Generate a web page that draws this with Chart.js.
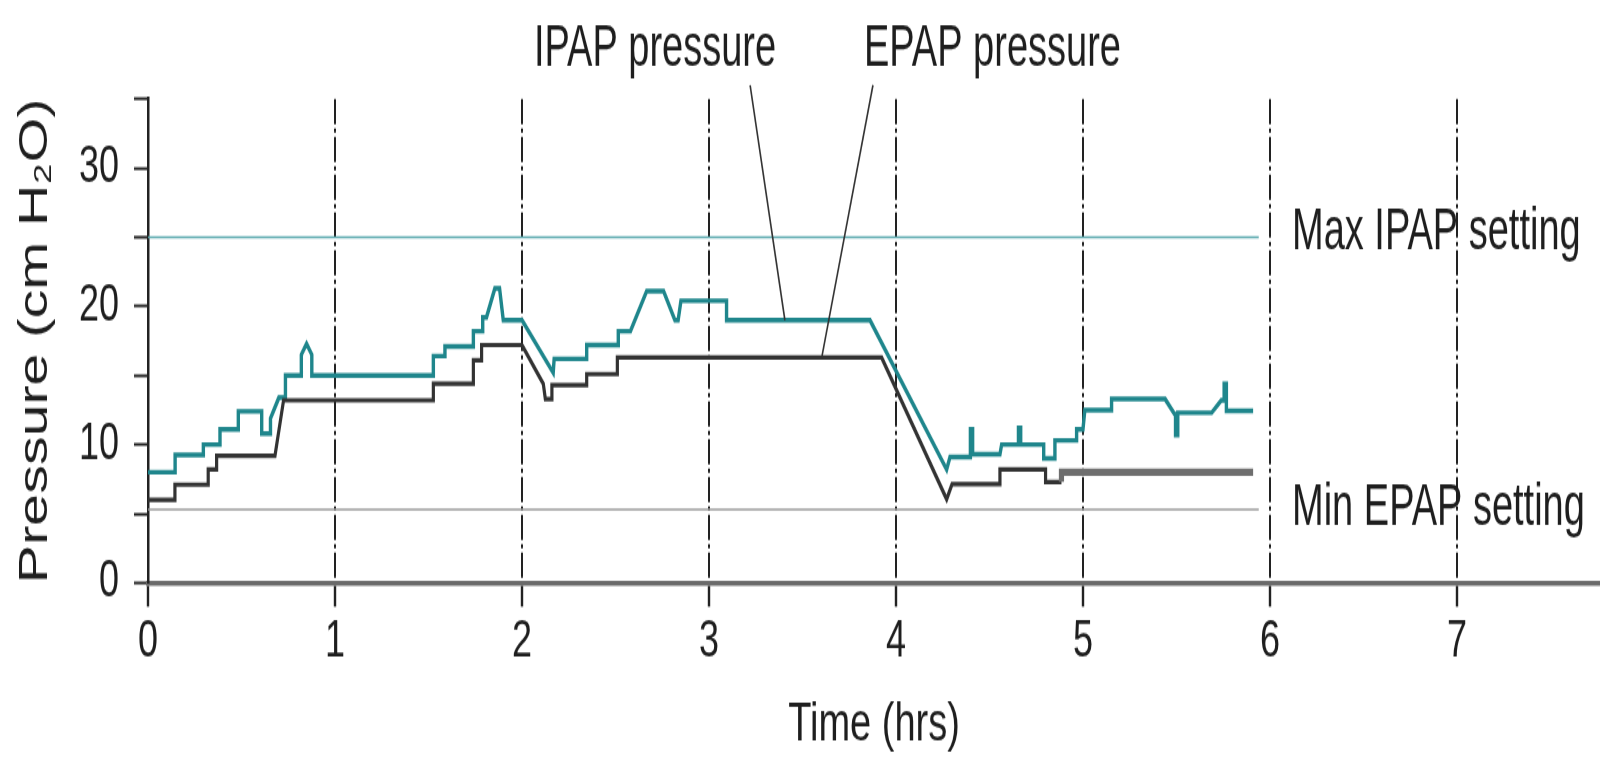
<!DOCTYPE html>
<html>
<head>
<meta charset="utf-8">
<title>IPAP / EPAP pressure</title>
<script src="https://cdn.jsdelivr.net/npm/chart.js@4.4.1/dist/chart.umd.min.js"></script>
<style>
  html, body { margin: 0; padding: 0; background: #fff; overflow: hidden; }
</style>
</head>
<body>
<!-- drawn 1600x543 and shown 1600x760: the original figure is stretched vertically -->
<canvas id="chart" width="1600" height="543" style="display:block;width:1600px;height:760px"></canvas>
<script>
// IPAP trace (hours, cm H2O), corners
const ipapTime = [0, 0.145, 0.145, 0.296, 0.296, 0.385, 0.385, 0.483, 0.483, 0.608, 0.608, 0.655, 0.655, 0.70, 0.735, 0.735,
  0.82, 0.82, 0.848, 0.876, 0.876, 1.526, 1.526, 1.588, 1.588, 1.74, 1.74, 1.79, 1.79, 1.81, 1.855, 1.88, 1.90, 2.0,
  2.167, 2.172, 2.346, 2.346, 2.515, 2.515, 2.58, 2.667, 2.757, 2.818, 2.835, 2.85, 3.094, 3.094, 3.861,
  4.271, 4.289, 4.398, 4.398, 4.41, 4.41, 4.556, 4.565, 4.655, 4.655, 4.667, 4.667, 4.79, 4.79, 4.85, 4.85,
  4.966, 4.966, 5.0, 5.01, 5.153, 5.153, 5.439, 5.49, 5.495, 5.495, 5.507, 5.507, 5.688, 5.74, 5.755, 5.755,
  5.767, 5.767, 5.91];
const ipapPressure = [8, 8, 9.25, 9.25, 10, 10, 11.1, 11.1, 12.4, 12.4, 10.8, 10.8, 11.9, 13.4, 13.4, 15,
  15, 16.5, 17.3, 16.5, 15, 15, 16.4, 16.4, 17.1, 17.1, 18.2, 18.2, 19.2, 19.2, 21.3, 21.3, 19.0, 19.0,
  15.2, 16.2, 16.2, 17.2, 17.2, 18.2, 18.2, 21.1, 21.1, 19.0, 19.0, 20.4, 20.4, 19.0, 19.0,
  8.2, 9.1, 9.1, 11.1, 11.1, 9.3, 9.3, 10.0, 10.0, 11.2, 11.2, 10.0, 10.0, 9.0, 9.0, 10.3,
  10.3, 11.1, 11.1, 12.5, 12.5, 13.3, 13.3, 12.2, 12.2, 10.7, 10.7, 12.3, 12.3, 13.2, 13.2, 14.4,
  14.4, 12.45, 12.45];

// EPAP trace
const epapTime = [0, 0.144, 0.144, 0.322, 0.322, 0.367, 0.367, 0.679, 0.725, 1.526, 1.526, 1.74, 1.74, 1.784, 1.784, 2.0,
  2.114, 2.125, 2.16, 2.16, 2.346, 2.346, 2.51, 2.51, 3.923, 4.271, 4.30, 4.556, 4.556, 4.80, 4.80, 4.885, 4.885, 5.91];
const epapPressure = [6, 6, 7.1, 7.1, 8.2, 8.2, 9.2, 9.2, 13.2, 13.2, 14.4, 14.4, 16.1, 16.1, 17.2, 17.2,
  14.4, 13.3, 13.3, 14.3, 14.3, 15.1, 15.1, 16.3, 16.3, 6.05, 7.15, 7.15, 8.2, 8.2, 7.3, 7.3, 8.0, 8.0];

// device settings
const maxIpapSetting = 25;
const minEpapSetting = 5.3;
const settingStart = 0;
const settingEnd = 5.94;

// callout lines: [label end, trace end]
const ipapLeader = [[3.22, 36.0], [3.406, 19.0]];
const epapLeader = [[3.877, 36.0], [3.603, 16.3]];

const xTicks = [0, 1, 2, 3, 4, 5, 6, 7];
const yTickLabels = [0, 10, 20, 30];

const toPoints = (ts, vs) => ts.map((t, i) => ({ x: t, y: vs[i] }));

const TEAL = '#1f868c';
const INK = '#1e1e1e';
const FONT = '"Liberation Sans", Arial, Helvetica, sans-serif';

// text annotations, anchored in data units (left / baseline)
const notes = [
  { text: 'IPAP pressure', t: 2.064, v: 37.4 },
  { text: 'EPAP pressure', t: 3.829, v: 37.4 },
  { text: 'Max IPAP setting', t: 6.118, v: 24.1 },
  { text: 'Min EPAP setting', t: 6.118, v: 4.2 }
];

const notesPlugin = {
  id: 'notes',
  afterDatasetsDraw(chart) {
    const { ctx, scales: { x, y } } = chart;
    ctx.save();
    ctx.strokeStyle = '#333';
    ctx.lineWidth = 1.6;
    [ipapLeader, epapLeader].forEach(seg => {
      ctx.beginPath();
      ctx.moveTo(x.getPixelForValue(seg[0][0]), y.getPixelForValue(seg[0][1]));
      ctx.lineTo(x.getPixelForValue(seg[1][0]), y.getPixelForValue(seg[1][1]));
      ctx.stroke();
    });
    ctx.fillStyle = INK;
    ctx.font = '38px ' + FONT;
    ctx.textAlign = 'left';
    ctx.textBaseline = 'alphabetic';
    notes.forEach(n => {
      ctx.save();
      ctx.translate(x.getPixelForValue(n.t), y.getPixelForValue(n.v));
      ctx.scale(1, 1.12);
      ctx.fillText(n.text, 0, 0);
      ctx.restore();
    });
    ctx.restore();
  }
};

const chart = new Chart(document.getElementById('chart'), {
  type: 'line',
  data: {
    datasets: [
      {
        label: 'Max IPAP setting',
        data: toPoints([settingStart, settingEnd], [maxIpapSetting, maxIpapSetting]),
        borderColor: '#5aa9ae',
        borderWidth: 1.4
      },
      {
        label: 'Min EPAP setting',
        data: toPoints([settingStart, settingEnd], [minEpapSetting, minEpapSetting]),
        borderColor: '#9c9c9c',
        borderWidth: 1.4
      },
      {
        label: 'EPAP pressure',
        data: toPoints(epapTime, epapPressure),
        borderColor: '#333',
        borderWidth: 3.2,
        segment: {
          borderColor: c => c.p0.parsed.x >= 4.88 ? '#6e6e6e' : undefined,
          borderWidth: c => c.p0.parsed.x >= 4.88 ? 5.2 : undefined
        }
      },
      {
        label: 'IPAP pressure',
        data: toPoints(ipapTime, ipapPressure),
        borderColor: TEAL,
        borderWidth: 3.4
      }
    ]
  },
  options: {
    responsive: false,
    animation: false,
    devicePixelRatio: 1,
    layout: { padding: { top: 70.7, left: 0, right: 0, bottom: 0 } },
    elements: {
      point: { radius: 0 },
      line: { tension: 0, fill: false, borderJoinStyle: 'miter' }
    },
    plugins: {
      legend: { display: false },
      tooltip: { enabled: false }
    },
    scales: {
      x: {
        type: 'linear',
        min: 0,
        max: 7.765,
        afterFit: s => { s.height = 126.6; },
        ticks: {
          stepSize: 1,
          includeBounds: false,
          padding: 4,
          color: INK,
          font: { family: FONT, size: 36 },
          callback: v => xTicks.includes(v) ? String(v) : ''
        },
        grid: {
          color: '#222',
          lineWidth: 2,
          tickLength: 17,
          tickColor: '#222',
          tickWidth: 2.4
        },
        border: { display: true, color: '#6a6a6a', width: 3.4, dash: [18, 3, 3, 3] },
        title: {
          display: true,
          text: 'Time (hrs)',
          color: INK,
          font: { family: FONT, size: 38 },
          padding: { top: 0, bottom: 2 }
        }
      },
      y: {
        min: 0,
        max: 35,
        afterFit: s => { s.width = 148; },
        ticks: {
          stepSize: 5,
          padding: 15,
          color: INK,
          font: { family: FONT, size: 36 },
          callback: v => yTickLabels.includes(v) ? String(v) : ''
        },
        grid: {
          drawOnChartArea: false,
          tickLength: 14,
          tickColor: '#222',
          tickWidth: 2
        },
        border: { display: true, color: '#222', width: 2.5 },
        title: {
          display: true,
          text: 'Pressure (cm H\u2082O)',
          color: INK,
          font: { family: FONT, size: 41 },
          padding: { top: 11, bottom: 0 }
        }
      }
    }
  },
  plugins: [notesPlugin]
});
</script>
</body>
</html>
